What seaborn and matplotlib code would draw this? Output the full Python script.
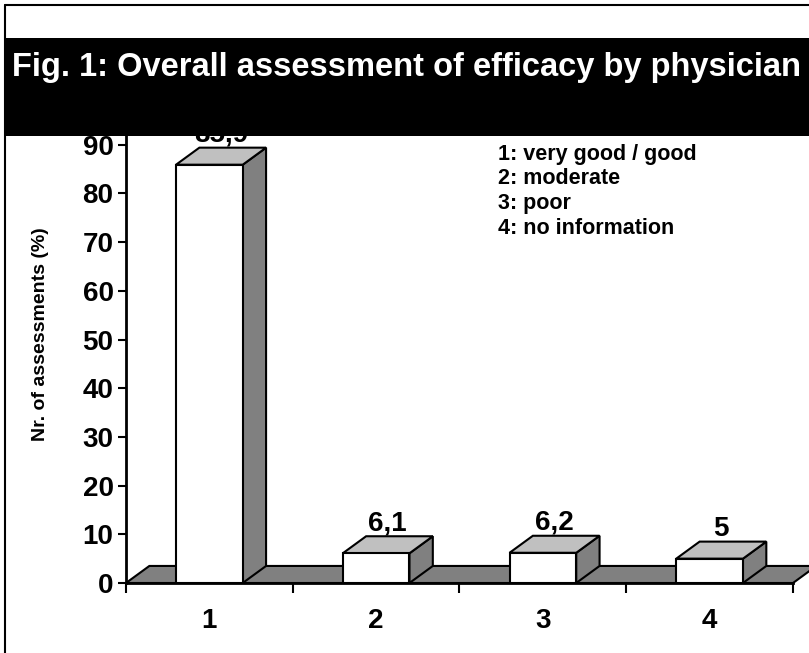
import matplotlib
matplotlib.use("Agg")
import matplotlib.pyplot as plt
from matplotlib.patches import Polygon, Rectangle
from matplotlib.lines import Line2D
import seaborn as sns

# data
categories = ["1", "2", "3", "4"]
values = [85.9, 6.1, 6.2, 5.0]
value_labels = ["85,9", "6,1", "6,2", "5"]
legend_lines = ["1: very good / good", "2: moderate", "3: poor", "4: no information"]
y_ticks = [0, 10, 20, 30, 40, 50, 60, 70, 80, 90]
title = "Fig. 1: Overall assessment of efficacy by physician"
ylabel = "Nr. of assessments (%)"

sns.set_style("white")
plt.rcParams['font.family'] = ['Liberation Sans', 'DejaVu Sans']
plt.rcParams['font.weight'] = 'bold'
plt.rcParams['text.color'] = 'black'
plt.rcParams['axes.labelcolor'] = 'black'
plt.rcParams['xtick.color'] = 'black'
plt.rcParams['ytick.color'] = 'black'

W, H = 809, 653
fig = plt.figure(figsize=(W / 100, H / 100), dpi=100)
ax = fig.add_axes([126 / W, 70 / H, 667 / W, 448 / H])

sns.barplot(x=categories, y=values, color="white", saturation=1,
            edgecolor="black", linewidth=1.5, width=0.4, ax=ax, zorder=3)
bars = list(ax.patches)

ax.set_xlim(-0.5, 3.5)
ax.set_ylim(0, 92)

# fake 3d depth
dx, dy = 0.14, 3.5
floor = Polygon([(-0.5, 0), (3.5, 0), (3.5 + dx, dy), (-0.5 + dx, dy)],
                closed=True, fc="#808080", ec="black", lw=1.5, clip_on=False, zorder=1)
ax.add_patch(floor)

for p, lbl in zip(bars, value_labels):
    x0, w, h = p.get_x(), p.get_width(), p.get_height()
    x1 = x0 + w
    side = Polygon([(x1, 0), (x1 + dx, dy), (x1 + dx, h + dy), (x1, h)],
                   closed=True, fc="#808080", ec="black", lw=1.5, clip_on=False, zorder=2)
    top = Polygon([(x0, h), (x1, h), (x1 + dx, h + dy), (x0 + dx, h + dy)],
                  closed=True, fc="#c0c0c0", ec="black", lw=1.5, clip_on=False, zorder=2)
    ax.add_patch(side)
    ax.add_patch(top)
    ax.text(x0 + w / 2 + dx / 2, h + dy + 1.2, lbl, ha="center", va="baseline",
            fontsize=20, fontweight="bold", clip_on=False, zorder=4)

sns.despine(ax=ax)
for s in ["left", "bottom"]:
    ax.spines[s].set_linewidth(2)
    ax.spines[s].set_color("black")

ax.set_yticks(y_ticks)
ax.tick_params(axis="y", left=True, direction="out", length=6, width=1.5,
               labelsize=20, color="black", labelcolor="black", pad=3)

ax.set_xticks([i - 0.5 for i in range(len(categories) + 1)])
ax.set_xticklabels([""] * (len(categories) + 1))
ax.set_xticks(range(len(categories)), minor=True)
ax.set_xticklabels(categories, minor=True)
ax.tick_params(axis="x", which="major", bottom=True, direction="out", length=7,
               width=1.5, color="black")
ax.tick_params(axis="x", which="minor", bottom=True, length=0, pad=18, labelsize=20,
               labelcolor="black")
for t in ax.get_yticklabels() + ax.get_xticklabels(minor=True):
    t.set_fontweight("bold")

ax.set_xlabel("")
ax.set_ylabel(ylabel, fontsize=14, fontweight="bold", color="black")
ax.yaxis.set_label_coords((49 - 126) / 667, (583 - 334) / 448)

# legend text block
for i, line in enumerate(legend_lines):
    ax.text((498 - 126) / 667, (583 - 144 - i * 24.5) / 448, line, transform=ax.transAxes,
            ha="left", va="top", fontsize=15.5, fontweight="bold", color="black")

# title band
fig.add_artist(Rectangle((5 / W, (H - 136) / H), 1, 98 / H, transform=fig.transFigure,
                         fc="black", ec="none", zorder=5))
fig.text(12 / W, (H - 76) / H, title, color="white", fontsize=23.5, fontweight="bold",
         ha="left", va="baseline", zorder=6)

# frame lines (top and left)
fig.add_artist(Line2D([5 / W, 1], [1 - 5 / H, 1 - 5 / H], color="black", lw=1.5,
                      transform=fig.transFigure, zorder=6))
fig.add_artist(Line2D([5 / W, 5 / W], [0, 1 - 5 / H], color="black", lw=1.5,
                      transform=fig.transFigure, zorder=6))

fig.savefig("out.png", dpi=100)
